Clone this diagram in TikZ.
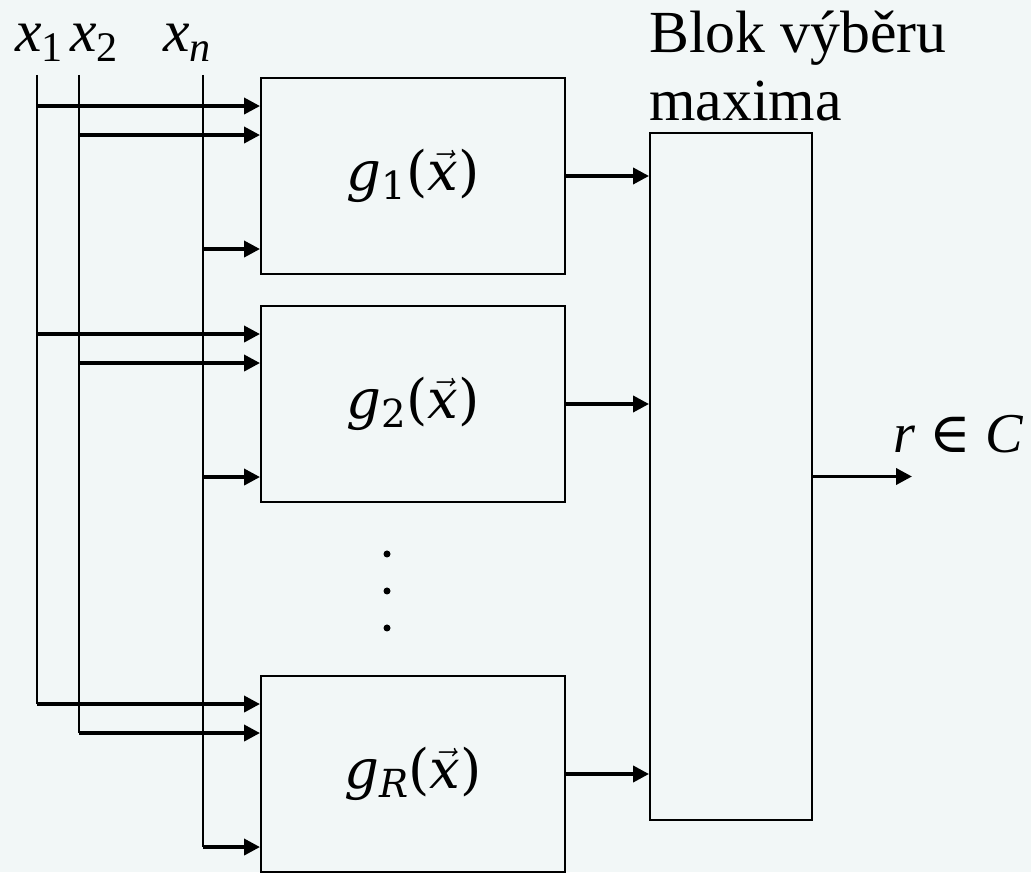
\documentclass[tikz,border=0pt]{standalone}
\usepackage{fontspec}
\setmainfont{Liberation Serif}[ItalicFont={Liberation Serif Italic}]
\newfontfamily\gfont{DejaVu Serif}
\usetikzlibrary{arrows.meta,positioning,calc}
\definecolor{bgcol}{RGB}{242,247,247}
\tikzset{
	blok/.style={draw,line width=1.1pt,minimum width=6.08cm,minimum height=3.92cm,inner sep=0pt,font=\gfont\fontsize{31}{38}\selectfont},
	arr/.style={line width=2.1pt,-{Triangle[length=0.32cm,width=0.32cm]}},
	vod/.style={line width=1.1pt},
	txt/.style={inner sep=0pt,font=\fontsize{34}{38.7}\selectfont},
}
\newcommand{\xin}[1]{\textit{x}\raisebox{-0.35ex}{\fontsize{24}{24}\selectfont #1}}
\newcommand{\gfun}[1]{\textit{g}\raisebox{-0.3ex}{\fontsize{22}{22}\selectfont #1}(\ensuremath{\vec{\mbox{\textit{x}}}})}
\begin{document}
\begin{tikzpicture}
				\fill[bgcol] (0,0) rectangle (20.62,17.44);
				\useasboundingbox (0,0) rectangle (20.62,17.44);
				% bloky g
				\node[blok] (g1) at (8.26,13.92) {\gfun{1}};
				\node[blok] (g2) at (8.26,9.36) {\gfun{2}};
				\node[blok] (gR) at (8.26,1.96) {\gfun{\textit{R}}};
				\node[draw,line width=1.1pt,minimum width=3.24cm,minimum height=13.74cm] (mx) at (14.62,7.91) {};
				\node[txt,anchor=south west,align=left] (mxlab) at ($(mx.north west)+(0,0.22)$) {Blok výběru\\maxima};
				% vstupy
				\node[txt,anchor=base west] (l1) at (0.30,16.40) {\xin{1}};
				\node[txt,anchor=base west] (l2) at (1.40,16.40) {\xin{2}};
				\node[txt,anchor=base west] (ln) at (3.26,16.40) {\xin{\textit{n}}};
				\coordinate (t1) at (0.74,15.94);
				\coordinate (t2) at (1.58,15.94);
				\coordinate (tn) at (4.06,15.94);
				\foreach \b in {g1,g2,gR}{
					\coordinate (a\b) at ($(\b.north west)+(0,-0.58)$);
					\coordinate (b\b) at ($(\b.north west)+(0,-1.16)$);
					\coordinate (c\b) at ($(\b.north west)+(0,-3.44)$);
					\draw[arr] (t1 |- a\b) -- (a\b);
					\draw[arr] (t2 |- b\b) -- (b\b);
					\draw[arr] (tn |- c\b) -- (c\b);
					\draw[arr] (\b.east) -- (\b.east -| mx.west);
				}
				\draw[vod] (t1) -- (t1 |- agR);
				\draw[vod] (t2) -- (t2 |- bgR);
				\draw[vod] (tn) -- (tn |- cgR);
				% tecky
				\foreach \y in {6.36,5.62,4.88}
					\fill (7.74,\y) circle(0.07cm);
				% vystup
				\coordinate (r) at (18.24,7.91);
				\draw[arr] (mx.east) -- (mx.east -| r);
				\node[txt,anchor=base west,font=\fontsize{32}{38}\selectfont] (rlab) at (17.86,8.38) {\textit{r} {\gfont ∈} \textit{C}};
				\end{tikzpicture}
\end{document}
